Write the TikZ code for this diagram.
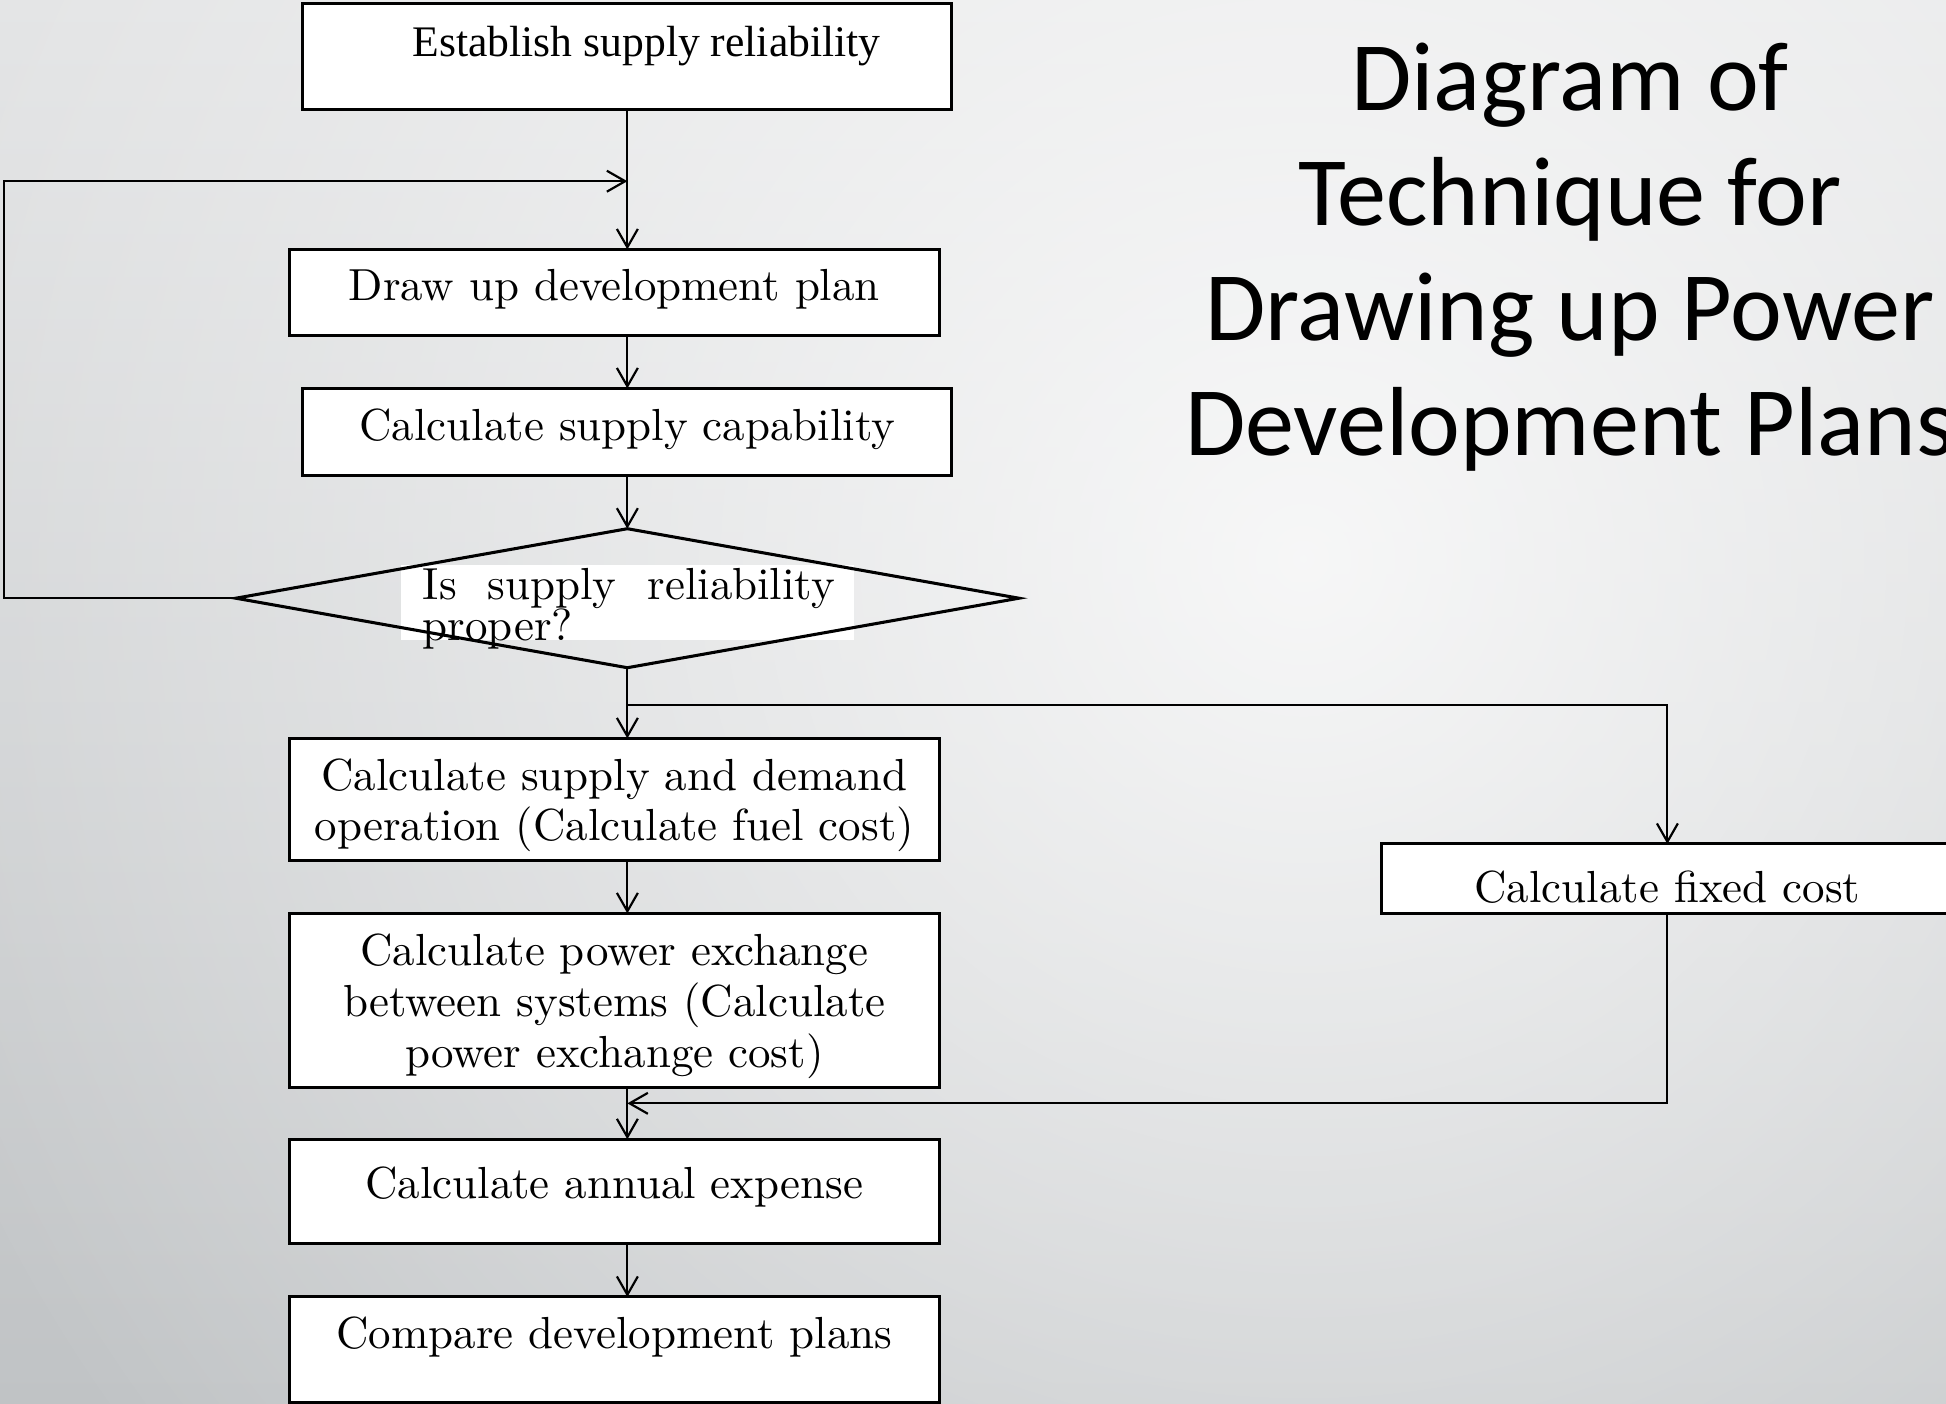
\documentclass[tikz,border=0pt]{standalone}
\usepackage{fontspec}
\newfontfamily\titlefont{Carlito}
\newfontfamily\timesfont{Liberation Serif}
\usetikzlibrary{positioning, arrows.meta, shapes.geometric, calc, fadings}
\definecolor{bgtop}{RGB}{227,228,229}
\definecolor{bgbottom}{RGB}{192,195,197}
\newcommand{\flowfont}{\fontsize{10.3}{11.6}\selectfont}
\tikzfading[name=glow, inner color=transparent!20, outer color=transparent!100]

\begin{document}
\begin{tikzpicture}[
    node distance=0.43cm,
    procbox/.style={draw, line width=0.7pt, fill=white, inner sep=0pt, outer sep=0pt, minimum width=5.24cm, font=\flowfont, align=center},
    decision/.style={draw, diamond, line width=0.7pt, inner sep=0pt, outer sep=0pt, minimum width=6.31cm, minimum height=1.12cm},
    arrow/.style={-{Straight Barb[length=4.2pt,width=4.8pt]}, line width=0.5pt}
]
    % Background
    \useasboundingbox (0,0) rectangle (15.68,-11.31);
    \shade[top color=bgtop, bottom color=bgbottom] (0,0) rectangle (15.68,-11.31);
    \fill[white, path fading=glow] (10.5,-4.5) circle (12cm);

    % Title
    \node[font=\titlefont\fontsize{22.5}{26.4}\selectfont, align=center] (title) at (12.65,-2.07) {Diagram of\\Technique for\\Drawing up Power\\Development Plans};

    % Nodes - main column
    \node[procbox, minimum width=5.23cm, minimum height=0.85cm, font=\timesfont\fontsize{10}{12}\selectfont, text height=7pt, text depth=7pt] (establish) at (5.055,-0.455) {\hspace*{0.31cm}Establish supply reliability};
    \node[procbox, minimum height=0.69cm, below=1.13cm of establish, xshift=-0.105cm, text depth=3.6pt] (plan) {Draw up development plan};
    \node[procbox, minimum width=5.23cm, minimum height=0.70cm, below=of plan, xshift=0.105cm, text depth=3.4pt] (capability) {Calculate supply capability};
    \node[fill=white, inner sep=0pt, outer sep=0pt, minimum width=3.65cm, minimum height=0.61cm, below=0.72cm of capability] (qback) {};
    \node[decision, below=of capability] (check) {};
    \node[font=\fontsize{10.3}{9.4}\selectfont, align=left, inner sep=0pt, anchor=north west] (question) at ([xshift=0.17cm, yshift=-0.02cm]qback.north west) {\makebox[3.32cm][s]{Is supply reliability}\\proper?};
    \node[procbox, minimum height=0.98cm, below=0.57cm of check, xshift=-0.105cm, text height=21.6pt, text depth=2.6pt] (operation) {Calculate supply and demand\\operation (Calculate fuel cost)};
    \node[procbox, minimum height=1.40cm, below=of operation, text height=33.2pt, text depth=2.6pt] (exchange) {Calculate power exchange\\between systems (Calculate\\power exchange cost)};
    \node[procbox, minimum height=0.84cm, below=0.42cm of exchange, text depth=4.2pt] (annual) {Calculate annual expense};
    \node[procbox, minimum height=0.85cm, below=of annual, text depth=7.6pt] (compare) {Compare development plans};

    % Side branch
    \node[procbox, minimum width=4.61cm, minimum height=0.56cm, text height=11pt, text depth=0pt] (fixed) at (13.435,-7.08) {Calculate fixed cost};

    % Helper points
    \coordinate (spine) at (5.055,0);
    \coordinate (leftedge) at (0.03,0);
    \coordinate (loopin) at ([yshift=-0.58cm]establish.south);
    \coordinate (branch) at ([yshift=-0.30cm]check.south);
    \coordinate (join) at ($(spine |- exchange.south) + (0,-0.13)$);

    % Arrows
    \draw[arrow] (establish.south) -- (establish.south |- plan.north);
    \draw[arrow] (spine |- plan.south) -- (spine |- capability.north);
    \draw[arrow] (capability.south) -- (check.north);
    \draw[arrow] (check.west) -- (check.west -| leftedge) |- (loopin);
    \draw[arrow] (check.south) -- (check.south |- operation.north);
    \draw[arrow] (branch) -| (fixed.north);
    \draw[arrow] (spine |- operation.south) -- (spine |- exchange.north);
    \draw[arrow] (spine |- exchange.south) -- (spine |- annual.north);
    \draw[arrow] (fixed.south) |- (join);
    \draw[arrow] (spine |- annual.south) -- (spine |- compare.north);
\end{tikzpicture}
\end{document}
